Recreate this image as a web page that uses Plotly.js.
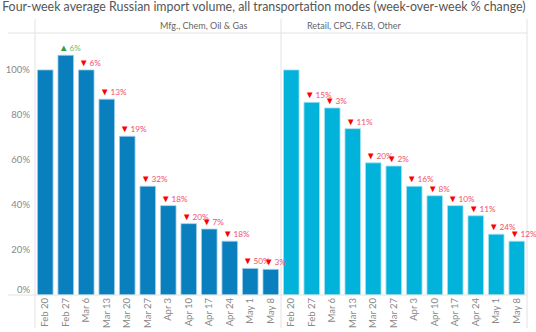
<!DOCTYPE html>
<html>
<head>
<meta charset="utf-8">
<script src="https://cdn.plot.ly/plotly-3.0.1.min.js"></script>
<style>html,body{margin:0;padding:0;background:#fff;}#chart{width:536px;height:332px;}</style>
</head>
<body>
<div id="chart"></div>
<script>
const categories = ["Feb 20","Feb 27","Mar 6","Mar 13","Mar 20","Mar 27","Apr 3","Apr 10","Apr 17","Apr 24","May 1","May 8"];
const panelTitles = ["Mfg., Chem, Oil & Gas", "Retail, CPG, F&B, Other"];
const mfgValues = [100, 106.5, 100, 87, 70.5, 48.3, 39.7, 31.7, 29.3, 23.9, 11.8, 11.4];
const retailValues = [100, 85.6, 83.1, 73.9, 58.7, 57.3, 48.3, 44.1, 39.7, 35.2, 27, 23.9];
const mfgChange = [null, 6, -6, -13, -19, -32, -18, -20, -7, -18, -50, -3];
const retailChange = [null, -15, -3, -11, -20, -2, -16, -8, -10, -11, -24, -12];
const yTickVals = [20, 40, 60, 80, 100];
const yTickText = ["20%", "40%", "60%", "80%", "100%"];
const yZeroVals = [0];
const yZeroText = ["0%"];

const FONT = "Lato, 'Noto Sans', sans-serif";
const idx = categories.map((c, i) => i);

const traces = [
  {type: "bar", x: idx, y: mfgValues, xaxis: "x", yaxis: "y",
   marker: {color: "#0a7fbd", line: {color: "#9fd0ea", width: 0.8}}, width: 0.76, hoverinfo: "none"},
  {type: "bar", x: idx, y: retailValues, xaxis: "x2", yaxis: "y",
   marker: {color: "#01b2da", line: {color: "#a8e2f0", width: 0.8}}, width: 0.76, hoverinfo: "none"},
  {type: "scatter", mode: "none", x: [], y: [], xaxis: "x", yaxis: "y2", hoverinfo: "none"}
];

function labelAnnots(vals, changes, xref) {
  const out = [];
  changes.forEach((c, i) => {
    if (c === null) return;
    const up = c > 0;
    const tri = up ? '<span style="color:#2f9e44;font-size:9.5px">▲</span>' : '<span style="color:#ff0000;font-size:9.5px">▼</span>';
    out.push({
      x: i - 0.4, y: vals[i], xref: xref, yref: "y",
      xanchor: "left", yanchor: "bottom", yshift: 1,
      text: tri + "\u2009" + Math.abs(c) + "%",
      showarrow: false, borderpad: 0,
      font: {family: FONT, size: 8.2, color: up ? "#6cbf6c" : "#f0506a"}
    });
  });
  return out;
}

const lineColor = "#e2e2e2";
const shapes = [
  {type: "line", xref: "paper", yref: "paper", x0: 0, x1: 0, y0: -0.126, y1: 1.053, line: {color: lineColor, width: 1}},
  {type: "line", xref: "paper", yref: "paper", x0: 0.5, x1: 0.5, y0: -0.126, y1: 1.053, line: {color: lineColor, width: 1}},
  {type: "line", xref: "paper", yref: "paper", x0: 1, x1: 1, y0: -0.126, y1: 1.053, line: {color: lineColor, width: 1}},
  {type: "line", xref: "paper", yref: "paper", x0: -0.055, x1: 1, y0: 1, y1: 1, line: {color: lineColor, width: 1}},
  {type: "line", xref: "paper", yref: "paper", x0: -0.055, x1: 1, y0: 0, y1: 0, line: {color: lineColor, width: 1}}
];

const annotations = [
  ...labelAnnots(mfgValues, mfgChange, "x"),
  ...labelAnnots(retailValues, retailChange, "x2"),
  {x: 0.25, y: 1.027, xref: "paper", yref: "paper", yanchor: "middle", text: panelTitles[0], showarrow: false, font: {family: FONT, size: 9, color: "#666"}},
  {x: 0.75, y: 1.027, xref: "paper", yref: "paper", yanchor: "middle", text: panelTitles[1], showarrow: false, font: {family: FONT, size: 9, color: "#666"}}
];

const xCommon = {
  type: "linear", range: [-0.5, 11.5], tickmode: "array", tickvals: idx, ticktext: categories,
  tickangle: -90, tickfont: {family: FONT, size: 9.5, color: "#888"},
  showgrid: false, zeroline: false, showline: false, ticks: "", fixedrange: true
};
const yCommon = {
  range: [0, 116.4], tickmode: "array", tickfont: {family: FONT, size: 9.5, color: "#888"},
  showgrid: false, zeroline: false, showline: false, ticks: "", ticklabelstandoff: 4, fixedrange: true
};

const layout = {
  width: 536, height: 332,
  margin: {l: 35, r: 9, t: 33, b: 37},
  paper_bgcolor: "#fff", plot_bgcolor: "#fff",
  showlegend: false, bargap: 0,
  title: {text: "Four-week average Russian import volume, all transportation modes (week-over-week % change)",
          x: 0.004, xanchor: "left", xref: "container", yref: "container", y: 1, yanchor: "top", pad: {t: 2},
          font: {family: FONT, size: 12.4, color: "#555"}},
  xaxis: Object.assign({}, xCommon, {domain: [0, 0.5]}),
  xaxis2: Object.assign({}, xCommon, {domain: [0.5, 1], anchor: "y"}),
  yaxis: Object.assign({}, yCommon, {tickvals: yTickVals, ticktext: yTickText}),
  yaxis2: Object.assign({}, yCommon, {tickvals: yZeroVals, ticktext: yZeroText, overlaying: "y", side: "left", anchor: "x", ticklabelshift: -5}),
  shapes: shapes,
  annotations: annotations
};

Plotly.newPlot("chart", traces, layout, {displayModeBar: false, staticPlot: true});
</script>
</body>
</html>
